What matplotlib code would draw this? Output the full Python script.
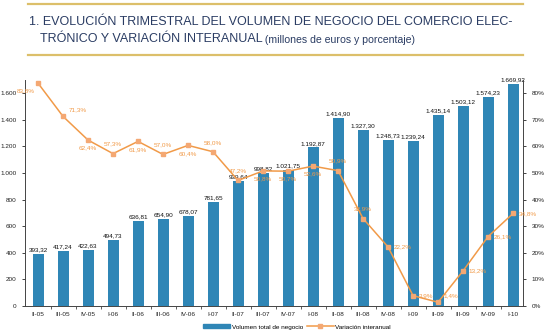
import matplotlib
matplotlib.use("Agg")
import matplotlib.pyplot as plt
from matplotlib.lines import Line2D
from matplotlib.patches import Patch
from matplotlib.text import Annotation

trimestres = ["II-05", "III-05", "IV-05", "I-06", "II-06", "III-06", "IV-06",
              "I-07", "II-07", "III-07", "IV-07", "I-08", "II-08", "III-08",
              "IV-08", "I-09", "II-09", "III-09", "IV-09", "I-10"]
volumen = [393.32, 417.24, 422.63, 494.73, 636.81, 654.90, 678.07, 781.65,
           939.64, 998.82, 1021.75, 1192.87, 1414.90, 1327.30, 1248.73,
           1239.24, 1435.14, 1503.12, 1574.23, 1669.92]
variacion = [83.8, 71.3, 62.4, 57.3, 61.9, 57.0, 60.4, 58.0, 47.2, 50.8,
             50.7, 52.6, 50.9, 32.9, 22.2, 3.9, 1.4, 13.2, 26.1, 34.8]
# where each % label sits relative to its point
lab_pos = ["bl", "ar", "b", "a", "b", "a", "b", "a", "a", "b",
           "b", "b", "a", "a", "r", "r", "ar", "r", "r", "r"]

BLUE = "#2f86b6"
ORANGE = "#f19a48"
NAVY = "#2a3c63"
GOLD = "#d9b85a"


def es_num(v, dec=2):
    s = f"{v:,.{dec}f}"
    return s.replace(",", "X").replace(".", ",").replace("X", ".")


plt.rcParams["font.family"] = ["Liberation Sans", "DejaVu Sans"]
fig = plt.figure(figsize=(5.5, 3.36), dpi=100)

# gold rules around the title
for y in (0.988, 0.836):
    fig.add_artist(Line2D([0.05, 0.95], [y, y], color=GOLD, lw=1.6, alpha=0.9))

fig.text(0.052, 0.935, "1. EVOLUCIÓN TRIMESTRAL DEL VOLUMEN DE NEGOCIO DEL COMERCIO ELEC-",
         fontsize=9.0, color=NAVY, va="center")
t2 = fig.text(0.072, 0.885, "TRÓNICO Y VARIACIÓN INTERANUAL",
              fontsize=9.0, color=NAVY, va="center")
fig.add_artist(Annotation(" (millones de euros y porcentaje)", xy=(1, 0),
                          xycoords=t2, xytext=(0, 0), textcoords="offset points",
                          va="bottom", fontsize=7.6, color=NAVY))

ax = fig.add_axes([0.0455, 0.0893, 0.9055, 0.6727])
x = list(range(len(trimestres)))
ax.bar(x, volumen, width=0.44, color=BLUE, zorder=2)
for xi, v in zip(x, volumen):
    ax.text(xi, v + 12, es_num(v), ha="center", va="bottom", fontsize=4.6,
            color="#111111", zorder=5)

ax.set_xlim(-0.52, 19.4)
ax.set_ylim(0, 1700)
ax.set_yticks(range(0, 1601, 200))
ax.set_yticklabels([es_num(v, 0) for v in range(0, 1601, 200)])
ax.set_xticks(x)
ax.set_xticklabels(trimestres)
ax.set_xticks([i + 0.5 for i in x[:-1]], minor=True)
ax.tick_params(axis="x", which="major", length=0, labelsize=4.6, pad=4, colors="#222222")
ax.tick_params(axis="x", which="minor", length=2.5, width=0.6, color="#444444")
ax.tick_params(axis="y", length=2.5, width=0.6, labelsize=4.6, colors="#222222")
for s in ("top", "right"):
    ax.spines[s].set_visible(False)
for s in ("left", "bottom"):
    ax.spines[s].set_linewidth(0.7)
    ax.spines[s].set_color("#444444")

ax2 = ax.twinx()
ax2.plot(x, variacion, color=ORANGE, lw=1.1, marker="s", markersize=2.6,
         markerfacecolor="#f4a873", markeredgecolor="#f4a873", zorder=4)
ax2.set_ylim(0, 85)
ax2.set_yticks(range(0, 81, 10))
ax2.set_yticklabels([f"{v}%" for v in range(0, 81, 10)])
ax2.tick_params(axis="y", length=2.5, width=0.6, labelsize=4.6, colors="#222222")
for s in ("top", "left", "bottom"):
    ax2.spines[s].set_visible(False)
ax2.spines["right"].set_linewidth(0.7)
ax2.spines["right"].set_color("#444444")

offs = {"a": (0, 5, "center", "bottom"), "b": (0, -4, "center", "top"),
        "r": (4, 0, "left", "center"), "ar": (4, 3, "left", "bottom"),
        "bl": (-2, -4, "right", "top")}
for xi, v, p in zip(x, variacion, lab_pos):
    dx, dy, ha, va = offs[p]
    ax2.annotate(es_num(v, 1) + "%", (xi, v), xytext=(dx, dy),
                 textcoords="offset points", ha=ha, va=va, fontsize=4.6,
                 color=ORANGE, zorder=6)

handles = [Patch(color=BLUE), Line2D([], [], color=ORANGE, lw=1.1, marker="s",
                                      markersize=2.4, markerfacecolor="#f4a873",
                                      markeredgecolor="#f4a873")]
fig.legend(handles, ["Volumen total de negocio", "Variación interanual"],
           loc="center", bbox_to_anchor=(0.54, 0.027), ncol=2, frameon=False,
           fontsize=4.6, handlelength=4.2, handleheight=0.6, columnspacing=0.6,
           handletextpad=0.3)

fig.savefig("out.png", dpi=100)
